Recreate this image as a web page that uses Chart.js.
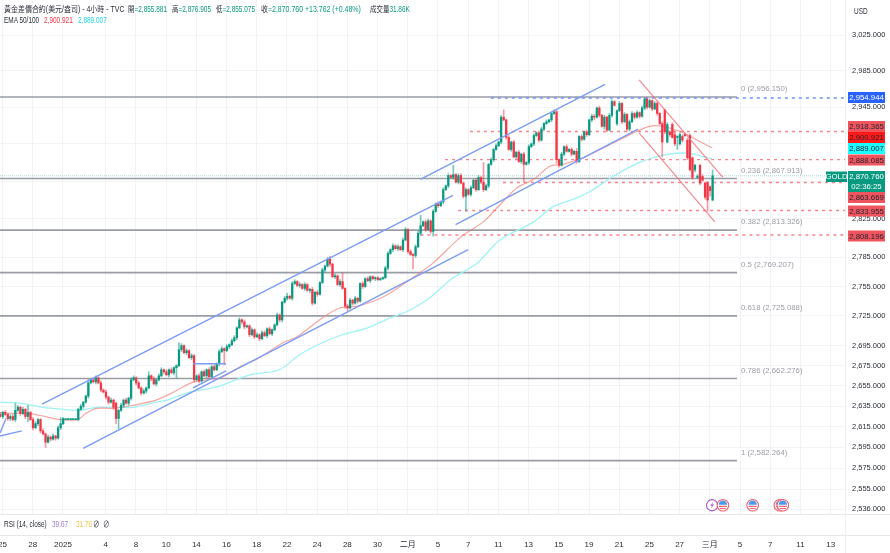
<!DOCTYPE html>
<html><head><meta charset="utf-8">
<script src="https://cdn.jsdelivr.net/npm/chart.js@4"></script>
<style>
html,body{margin:0;padding:0;background:#fff;width:890px;height:553px;overflow:hidden}
#wrap{position:relative;width:890px;height:553px}
canvas{position:absolute;left:0;top:0;filter:blur(.35px)}
.t{position:absolute;white-space:nowrap;font:8.5px 'Liberation Sans','Noto Sans CJK TC',sans-serif;color:#2a2e39;line-height:11px;transform-origin:0 50%;transform:scaleX(.76)}
.g{color:#089981}
</style></head><body>
<div id="wrap">
<canvas id="c" width="890" height="553"></canvas>
<div class="t" style="left:4px;top:4px;transform:scaleX(.82)">黃金差價合約(美元/盎司) - 4小時 - TVC</div>
<div class="t" style="left:128px;top:4px">開<span class="g">=2,855.881</span></div>
<div class="t" style="left:172px;top:4px">高<span class="g">=2,876.905</span></div>
<div class="t" style="left:216px;top:4px">低<span class="g">=2,855.075</span></div>
<div class="t" style="left:261px;top:4px;transform:scaleX(.82)">收<span class="g">=2,870.760 +13.762 (+0.48%)</span></div>
<div class="t" style="left:370px;top:4px">成交量<span class="g">31.86K</span></div>
<div class="t" style="left:4px;top:15px">EMA 50/100</div>
<div class="t" style="left:44px;top:15px;color:#f23645">2,900.921</div>
<div class="t" style="left:78px;top:15px;color:#22d3e6">2,889.007</div>
<div class="t" style="left:854px;top:6px">USD</div>
<div class="t" style="left:4px;top:519px">RSI (14, close)</div>
<div class="t" style="left:52px;top:519px;color:#9c7ad0">39.67</div>
<div class="t" style="left:76px;top:519px;color:#f2c84b">31.76</div>
<div class="t" style="left:93px;top:519px">∅</div>
<div class="t" style="left:103px;top:519px">∅</div>
</div>
<script>
const opens=[2627,2625,2629,2627,2623,2625,2622,2631,2634,2628,2632,2625,2629,2622,2614,2618,2622,2611,2608,2600,2605,2603,2606,2604,2614,2618,2622,2622,2622,2622,2622,2622,2632,2635,2639,2645,2658,2661,2659,2663,2658,2651,2649,2644,2639,2641,2638,2623,2631,2636,2641,2638,2643,2661,2663,2658,2653,2648,2650,2653,2665,2662,2657,2661,2665,2671,2669,2666,2671,2668,2673,2675,2691,2695,2688,2690,2683,2685,2661,2665,2660,2669,2665,2671,2664,2674,2671,2677,2689,2692,2690,2694,2696,2700,2703,2713,2721,2719,2714,2715,2706,2711,2704,2706,2702,2708,2705,2712,2707,2711,2716,2726,2721,2739,2743,2745,2743,2758,2760,2756,2757,2753,2757,2751,2752,2738,2749,2747,2759,2772,2776,2783,2778,2765,2766,2757,2760,2753,2735,2733,2741,2738,2743,2740,2758,2755,2763,2761,2765,2763,2764,2762,2763,2764,2774,2789,2793,2797,2794,2796,2793,2803,2814,2791,2788,2787,2796,2810,2818,2822,2814,2823,2812,2833,2841,2839,2843,2856,2860,2871,2869,2872,2864,2871,2863,2849,2856,2851,2858,2866,2856,2869,2864,2856,2860,2883,2888,2899,2903,2907,2934,2931,2912,2899,2907,2891,2896,2886,2894,2883,2885,2902,2905,2914,2917,2909,2921,2927,2929,2931,2938,2940,2888,2882,2894,2902,2897,2899,2894,2897,2886,2913,2910,2918,2915,2931,2935,2934,2944,2936,2924,2934,2920,2936,2951,2927,2941,2949,2929,2937,2921,2929,2938,2934,2939,2935,2944,2954,2945,2952,2943,2949,2938,2927,2942,2907,2918,2926,2915,2912,2905,2913,2915,2909,2914,2890,2877,2869,2882,2870,2863,2863,2859,2845,2855.881];
const closes=[2625,2629,2627,2623,2625,2622,2631,2634,2628,2632,2625,2629,2622,2614,2618,2622,2611,2608,2600,2605,2603,2606,2604,2614,2618,2623,2622,2622,2622,2622,2622,2632,2635,2639,2645,2658,2661,2659,2663,2658,2651,2649,2644,2639,2641,2634,2623,2631,2636,2641,2638,2643,2661,2663,2658,2653,2648,2650,2653,2665,2662,2657,2661,2665,2671,2669,2666,2671,2668,2673,2675,2691,2695,2688,2690,2683,2685,2661,2665,2660,2669,2665,2671,2664,2674,2671,2677,2689,2692,2690,2694,2696,2700,2703,2713,2721,2719,2714,2715,2706,2711,2704,2706,2702,2708,2705,2712,2707,2711,2716,2726,2721,2739,2743,2745,2743,2758,2760,2756,2757,2753,2757,2751,2752,2738,2749,2747,2759,2772,2776,2783,2778,2765,2766,2757,2760,2753,2735,2733,2741,2738,2743,2740,2758,2755,2763,2761,2765,2763,2764,2762,2763,2764,2774,2789,2793,2797,2794,2796,2793,2803,2814,2791,2788,2787,2796,2810,2818,2822,2814,2823,2812,2833,2841,2839,2843,2856,2860,2871,2869,2872,2864,2871,2863,2849,2856,2851,2858,2866,2856,2869,2864,2856,2860,2883,2888,2899,2903,2907,2934,2931,2912,2899,2907,2891,2896,2886,2894,2883,2885,2902,2905,2914,2917,2909,2921,2927,2929,2931,2938,2940,2888,2882,2894,2902,2897,2899,2894,2897,2886,2913,2910,2918,2915,2931,2935,2934,2944,2936,2924,2934,2920,2936,2951,2947,2941,2949,2929,2937,2921,2929,2938,2934,2939,2935,2944,2954,2945,2952,2943,2949,2938,2927,2907,2918,2926,2915,2912,2905,2913,2915,2909,2914,2890,2877,2869,2882,2870,2863,2866,2848,2845,2855,2870.76];
const upperWicks=[
2,1,2,1,2,2,7,2,1,2,1,7,1,2,2,1,1,2,1,2,
1,2,1,2,6,1,0,0,0,0,0,1,2,1,1,3,1,2,2,1,
2,1,2,1,2,1,1,1,2,1,2,1,2,2,1,2,1,2,1,4,
1,2,1,2,2,1,2,1,2,1,1,7,2,1,2,1,2,1,1,2,
1,2,1,2,1,2,1,2,2,1,2,1,2,2,1,2,1,2,1,1,
2,1,2,1,2,2,1,2,1,1,2,1,1,2,3,1,2,2,1,2,
1,2,1,1,2,1,2,1,2,1,2,3,1,2,1,2,9,1,2,2,
1,2,1,1,2,1,2,1,1,1,1,1,1,2,2,1,2,1,2,1,
2,2,1,2,1,2,2,11,1,2,2,1,2,1,2,1,2,1,2,1,
10,1,2,2,1,2,1,2,1,2,2,1,21,2,1,2,1,2,1,2,
8,1,2,1,2,1,2,1,2,1,2,1,2,1,2,2,1,2,1,1,
2,2,1,2,1,2,1,2,1,3,1,2,1,2,1,2,2,1,2,1,
2,1,2,2,1,1,2,1,2,1,2,2,1,2,1,2,1,1,2,1,
2,2,1,2,1,2,1,2,3,1,2,2,1,2,2,1,1,2,1,2,
1,2,1,6.145];
const lowerWicks=[
1,2,1,2,2,1,2,1,2,1,2,5,1,2,1,2,2,1,5,1,
2,1,2,1,2,1,0,0,0,0,0,1,1,2,1,2,1,1,2,1,
2,1,2,2,1,2,5,10,1,2,1,2,2,1,2,1,2,1,2,1,
2,1,2,1,1,2,1,2,1,2,10,1,2,1,2,1,2,2,1,2,
2,1,2,1,2,1,1,2,1,14,1,2,1,1,2,1,2,2,1,2,
1,2,1,2,1,1,2,1,2,1,1,2,2,1,2,1,2,1,1,2,
1,2,1,2,2,1,2,1,1,2,1,2,1,2,1,2,1,2,3,1,
2,1,2,1,2,1,1,2,1,2,1,1,1,1,2,1,2,1,2,1,
2,1,2,1,14,2,1,2,1,2,1,2,5,1,2,1,2,1,2,1,
2,1,2,1,2,16,1,2,1,2,1,2,2,1,2,1,2,1,1,2,
1,2,1,2,1,2,1,2,19,1,2,1,2,1,2,1,2,1,1,2,
1,4,2,1,2,1,1,2,1,2,1,2,1,2,1,2,3,1,2,1,
3,2,1,2,1,2,1,2,1,2,2,1,2,1,2,1,2,2,1,2,
1,2,1,16,2,1,2,1,2,13,1,2,1,2,1,2,2,1,2,1,
2,12,6,.806];
const tickBars=[1,13,25,42,54,66,78,90,102,114,126,138,150,162,174,186,198,210,222,234,246,258,270,282,294,306,318,330];
const tickLabels=['25','28','2025','4','8','10','14','16','18','22','24','28','30','二月','5','7','11','13','15','19','21','25','27','三月','5','7','11','13'];
const priceTicks=[3025,2985,2945,2905,2865,2825,2785,2755,2725,2695,2675,2655,2635,2615,2595,2575,2555,2536];
const fibLevels=[2956.15,2867.913,2813.326,2769.207,2725.088,2662.276,2582.264];
const fibNames=['0','0.236','0.382','0.5','0.618','0.786','1'];
const ema50Bars=[0,5,11,16,24,31,34,38.5,45,53,62,69,76,82,87.4,91.4,95.4,103,112.4,118,128,135,142,152,164,172,183,192,198.6,205.4,212,218.5,223.7,231.6,238.4,250.3,258,263.4,271.4,277,282.9];
const ema50=[2629,2628,2628,2626,2622,2622,2628,2633,2633,2636,2641,2649,2658,2661,2663,2668,2674,2683,2698,2704,2723,2733,2735,2744,2764,2779,2806,2822,2840,2858,2867,2881,2883,2890,2899,2915,2924,2924,2917,2909,2900.921];
const ema100Bars=[0,8,17,25,31,38.5,45,53,62,66.4,75.5,86,99.3,111,119,128,136,146,155,163,171,179,189.5,198.6,212,219.7,229,234.4,243.5,254,263.4,273,282.9];
const ema100=[2639,2638,2634,2632,2631,2634,2634,2634,2639,2641,2649,2654,2666,2671,2686,2698,2706,2713,2723,2731,2744,2762,2779,2803,2822,2838,2847,2854,2870,2885,2893,2895,2889.007];
const blueLines=[[16.7,2637,180,2850],[167,2867,240.4,2970],[33,2594,186,2793],[181,2819,253.5,2921],[0,2606,8.7,2611],[0,2609,2.4,2623],[76.7,2677,89.8,2677],[76.7,2653,89.8,2670]];
const redLines=[[253.9,2975,287.2,2869],[253.9,2917,284,2822]];
const dashStarts=[[2918.365,186.7],[2888.085,176.8],[2863.669,199.8],[2833.955,182],[2808.196,167]];
const tagValues=['2,954.944','2,918.365','2,900.921','2,889.007','2,888.085','2,863.669','2,833.955','2,808.196'];
const tagCenters=[97.5,126.5,137.5,148.5,160,197.5,211,236];
const tagFills=['#2962ff','#f0555f','#ff1a1a','#19ffff','#f0555f','#f0555f','#f0555f','#f0555f'];
const tagInks=['#fff','#23262f','#23262f','#23262f','#23262f','#23262f','#23262f','#23262f'];
const eventBars=[282.9,287.2,299,309.8,311];
const eventPrice=2539.8;
const lastPrice=2870.76;
const XMAX=335.7, XFIB=292.8;

const line=(pts,color,w,order,extra)=>Object.assign({type:'line',data:pts,borderColor:color,borderWidth:w,pointRadius:0,order,fill:false},extra||{});
const seg=a=>[{x:a[0],y:a[1]},{x:a[2],y:a[3]}];
const datasets=[];
fibLevels.forEach(v=>datasets.push(line(seg([0,v,XFIB,v]),'#9a9da6',1.6,9)));
datasets.push(line(seg([0,lastPrice,XMAX,lastPrice]),'rgba(8,153,129,.35)',1,8,{borderDash:[1,1]}));
datasets.push(line(seg([195,2954.944,XMAX,2954.944]),'#6f92f6',1.4,7,{borderDash:[3,4]}));
dashStarts.forEach(d=>datasets.push(line(seg([d[1],d[0],XMAX,d[0]]),'#f6848e',1.4,7,{borderDash:[3,4]})));
datasets.push(line(ema50.map((v,i)=>({x:ema50Bars[i],y:v})),'rgba(240,120,112,.65)',1.2,6,{tension:.3}));
datasets.push(line(ema100.map((v,i)=>({x:ema100Bars[i],y:v})),'#9ff2f4',1.3,6,{tension:.3}));
const upCol='#089981',dnCol='#f23645';
const colors=closes.map((c,i)=>c>=opens[i]?upCol:dnCol);
const wickCols=closes.map((c,i)=>c>=opens[i]?'rgba(8,153,129,.55)':'rgba(242,54,69,.5)');
datasets.push({type:'bar',data:closes.map((c,i)=>({x:i+.1,y:[Math.min(opens[i],c)-lowerWicks[i],Math.max(opens[i],c)+upperWicks[i]]})),backgroundColor:wickCols,barThickness:1,grouped:false,order:5});
datasets.push({type:'bar',data:closes.map((c,i)=>({x:i+.1,y:[Math.min(opens[i],c),Math.max(opens[i],c)]})),backgroundColor:colors,barThickness:1.6,minBarLength:1,grouped:false,order:4});
blueLines.forEach(b=>datasets.push(line(seg(b),'#7c9cf4',1.4,2)));
redLines.forEach(b=>datasets.push(line(seg(b),'rgba(242,110,120,.85)',1.1,2)));

const overlay={id:'overlay',afterDraw(ch){
 const c=ch.ctx,X=ch.scales.x,Y=ch.scales.y;
 c.save();
 const small="7.8px 'Liberation Sans',Roboto,sans-serif";
 c.strokeStyle='#e6e8ee';c.lineWidth=1;
 [514.5,535.5].forEach(y=>{c.beginPath();c.moveTo(0,y);c.lineTo(890,y);c.stroke();});
 c.beginPath();c.moveTo(845.5,0);c.lineTo(845.5,553);c.strokeStyle='#eef0f4';c.stroke();
 c.font=small;c.fillStyle='#9a9da6';c.textAlign='left';c.textBaseline='middle';
 fibLevels.forEach((v,i)=>{const s=v.toLocaleString('en-US',{minimumFractionDigits:3});c.fillText(fibNames[i]+' ('+s+')',741,Y.getPixelForValue(v)-8);});
 c.textAlign='center';
 tagValues.forEach((t,i)=>{c.fillStyle=tagFills[i];c.fillRect(848,tagCenters[i]-5.5,37,11);c.fillStyle=tagInks[i];c.fillText(t,866.5,tagCenters[i]+.5);});
 c.fillStyle=upCol;c.fillRect(848,171,37,21);c.fillRect(826,171.5,21,10.5);
 c.fillStyle='#fff';c.fillText('2,870.760',866.5,176.5);c.fillText('02:36:25',866.5,186.5);
 c.fillText('GOLD',836.5,177);
 eventBars.forEach((b,i)=>{const x=X.getPixelForValue(b),y=Y.getPixelForValue(eventPrice);
  c.lineWidth=1.1;
  if(i===0){c.strokeStyle='#a855c8';c.fillStyle='#fff';c.beginPath();c.arc(x,y,5.6,0,7);c.fill();c.stroke();
   c.fillStyle='#a855c8';c.beginPath();c.moveTo(x+1.5,y-3.5);c.lineTo(x-2,y+.5);c.lineTo(x,y+.5);c.lineTo(x-1.5,y+3.5);c.lineTo(x+2,y-.8);c.lineTo(x,y-.8);c.closePath();c.fill();return;}
  c.strokeStyle='#f0606a';c.fillStyle='#fff';c.beginPath();c.arc(x,y,5.8,0,7);c.fill();c.stroke();
  c.fillStyle='#f0606a';c.fillRect(x-4,y+.5,8,1.2);c.fillRect(x-3,y+2.8,6,1);
  c.fillStyle='#4a9bee';c.beginPath();c.moveTo(x+4,y-.5);c.lineTo(x-4.2,y-.5);c.arc(x,y-.5,4.2,Math.PI,2*Math.PI);c.closePath();c.fill();
 });
 c.restore();
}};

new Chart(document.getElementById('c'),{
 type:'bar',
 data:{datasets},
 options:{responsive:false,animation:false,devicePixelRatio:1,
  layout:{padding:0},
  plugins:{legend:{display:false},tooltip:{enabled:false}},
  events:[],
  scales:{
   x:{type:'linear',offset:false,min:0,max:XMAX,position:'bottom',
    grid:{offset:false,color:'#f1f3f7',lineWidth:1,drawTicks:false},border:{display:false},
    afterBuildTicks:s=>{s.ticks=tickBars.map(v=>({value:v}));},
    afterFit:s=>{s.height=38;s.paddingLeft=0;s.paddingRight=0;},
    ticks:{autoSkip:false,maxRotation:0,minRotation:0,padding:25,color:'#2a2e39',font:{size:8,family:"'Liberation Sans','Noto Sans CJK TC',sans-serif"},
     callback:v=>tickLabels[tickBars.indexOf(v)]}},
   y:{type:'logarithmic',position:'right',min:2530.6,max:3064.64,
    grid:{color:'#f1f3f7',lineWidth:1,drawTicks:false},border:{display:false},
    afterBuildTicks:s=>{s.ticks=priceTicks.map(v=>({value:v}));},
    afterFit:s=>{s.width=45;s.paddingTop=0;s.paddingBottom=0;},
    ticks:{autoSkip:false,padding:7,color:'#2a2e39',font:{size:7.5,family:"'Liberation Sans',Roboto,sans-serif"},
     callback:v=>v.toLocaleString('en-US',{minimumFractionDigits:3})}}
  }},
 plugins:[overlay]
});
</script>
</body></html>
